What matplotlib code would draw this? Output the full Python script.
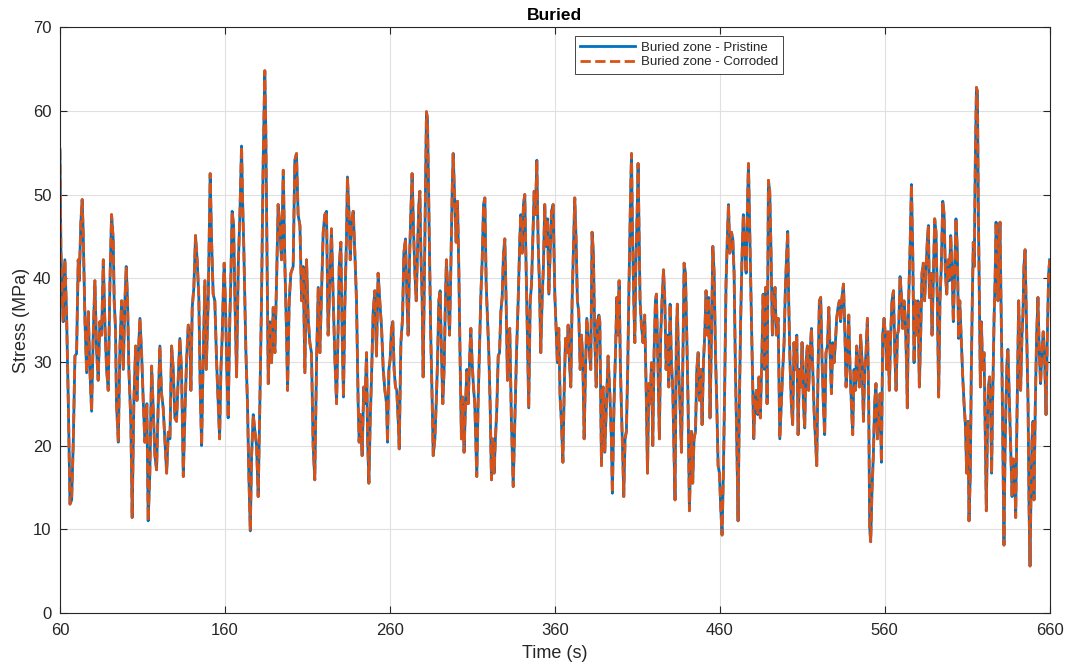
import matplotlib.pyplot as plt

# Stress history (time in s, stress in MPa).
# The two curves coincide at this scale, so one reading serves both.
t_a = [60.0, 60.6, 61.4, 62.0, 63.0, 64.0, 65.1, 66.1, 67.1, 68.1, 69.1, 70.1, 71.1, 71.7, 72.7, 73.5, 74.1, 75.2, 76.2, 77.2,
       78.0, 79.2, 80.2, 81.2, 82.2, 83.2, 84.2, 85.3, 86.3, 87.3, 88.3, 89.3, 90.3, 91.3, 92.3, 92.9, 93.7, 94.3, 95.4, 96.4,
       97.4, 98.4, 99.4, 100.2, 101.0, 101.8, 103.0, 103.8, 104.8, 105.9, 106.7, 107.5, 108.5, 109.5, 110.5, 111.5, 112.7, 113.5]
s_a = [55.4, 43.4, 37.7, 34.8, 42.2, 36.0, 25.0, 13.0, 13.5, 20.4, 30.7, 31.0, 42.2, 39.7, 46.7, 49.4, 45.5, 34.8, 28.7, 36.0,
       29.9, 24.1, 33.2, 39.7, 31.5, 27.8, 34.8, 33.2, 42.2, 34.4, 29.1, 26.6, 39.3, 47.6, 44.7, 37.3, 34.0, 25.0, 20.4, 31.9,
       37.3, 29.1, 37.3, 41.4, 37.3, 29.1, 22.9, 11.4, 25.0, 31.9, 25.4, 30.7, 35.2, 31.1, 25.4, 20.4, 25.0, 11.0]

t_b = [114.5, 115.6, 116.6, 117.6, 118.6, 119.6, 120.6, 121.6, 122.6, 123.6, 124.7, 125.7, 126.7, 127.7, 128.7, 129.7, 130.7,
       131.7, 132.7, 133.7, 134.8, 135.8, 136.8, 137.8, 138.8, 139.4, 140.2, 141.2, 142.2, 143.2, 144.2, 145.1, 145.9, 146.7,
       147.9, 148.7, 149.9, 151.1, 151.9, 152.9, 153.9, 155.0, 156.0, 156.8, 157.6, 158.4, 159.2, 159.6, 160.4, 161.2, 162.0,
       163.0, 163.6, 164.4, 165.3, 166.1, 167.1, 168.1, 169.1]
s_b = [16.7, 29.5, 24.1, 18.8, 17.1, 25.0, 31.9, 26.2, 24.5, 20.8, 16.7, 21.6, 20.8, 31.9, 29.1, 23.3, 22.9,
       27.8, 32.8, 29.1, 16.3, 24.1, 30.3, 34.4, 33.2, 26.6, 36.5, 38.9, 45.1, 42.2, 37.7, 26.2, 20.0, 29.1,
       39.7, 29.1, 37.3, 52.5, 44.7, 38.1, 37.3, 29.9, 25.0, 20.8, 29.1, 33.2, 39.7, 41.8, 36.5, 29.1, 23.3,
       35.2, 39.7, 48.0, 46.3, 37.3, 28.2, 41.4, 47.6]

t_c = [170.1, 170.7, 171.5, 172.1, 172.7, 173.7, 174.5, 175.4, 176.2, 177.2, 178.2, 179.2, 180.2, 181.2, 182.2, 183.2, 184.2,
       184.8, 185.5, 186.3, 187.3, 188.3, 189.3, 190.3, 191.3, 192.3, 193.3, 194.3, 195.4, 196.4, 197.4, 198.0, 199.0, 200.0,
       201.4, 202.4, 203.4, 204.4, 205.5, 206.5, 207.5, 208.5, 209.5, 210.5, 211.5, 212.5, 213.5, 214.5, 215.6, 216.6, 217.6,
       218.6, 219.6, 220.6, 221.6, 222.6, 223.6]
s_c = [55.8, 49.6, 43.4, 37.3, 31.5, 25.0, 16.7, 9.8, 18.8, 23.7, 21.7, 20.0, 13.9, 25.0, 37.3, 53.7, 64.8,
       57.8, 43.4, 27.4, 34.8, 29.9, 36.5, 31.1, 39.3, 48.8, 46.3, 42.2, 52.9, 41.4, 33.2, 26.6, 37.3, 40.6,
       41.4, 54.1, 54.9, 47.6, 46.3, 37.3, 41.4, 28.7, 42.2, 35.2, 32.3, 31.1, 20.0, 15.9, 30.3, 38.9, 31.1,
       38.5, 45.5, 47.6, 48.0, 33.2, 39.3]

t_d = [224.6, 225.7, 226.7, 227.7, 228.7, 229.3, 230.3, 231.1, 231.9, 232.7, 233.7, 234.3, 235.2, 236.0, 236.8, 237.8, 238.8,
       239.8, 240.8, 241.4, 242.2, 243.2, 244.2, 244.9, 245.9, 246.5, 247.3, 248.1, 248.9, 249.9, 250.9, 251.9, 252.9, 253.9,
       255.0, 256.0, 257.0, 258.0, 258.6, 259.4, 260.2, 261.0, 261.8, 262.6, 263.4, 264.2, 265.1, 265.7, 266.7, 267.7, 268.5,
       269.5, 270.3, 271.1, 272.1, 272.7, 273.5, 274.4, 275.2, 276.0, 276.8, 277.6, 278.2]
s_d = [45.9, 37.3, 30.3, 25.0, 34.4, 41.4, 44.3, 33.2, 25.8, 36.5, 44.7, 52.1, 48.0, 42.2, 46.7, 48.0, 43.0,
       37.3, 25.0, 20.4, 23.7, 18.8, 27.0, 25.0, 31.1, 20.8, 15.5, 22.9, 28.2, 36.0, 38.5, 30.7, 40.6, 37.3,
       34.0, 29.1, 26.6, 25.0, 20.4, 29.1, 30.3, 34.0, 34.8, 29.1, 27.0, 26.6, 22.9, 19.6, 32.3, 35.2, 43.0,
       44.7, 38.1, 33.2, 43.4, 47.6, 52.5, 45.5, 40.6, 37.3, 43.4, 48.8, 50.4]

t_e = [278.8, 279.6, 280.2, 280.8, 281.6, 282.2, 282.8, 283.4, 284.2, 284.8, 285.7, 286.3, 287.3, 288.1, 288.9, 289.7, 290.5,
       291.3, 292.1, 292.9, 293.7, 294.3, 295.4, 296.2, 297.0, 297.8, 298.4, 299.4, 300.2, 301.0, 301.8, 302.6, 303.4, 304.2,
       305.0, 305.9, 306.7, 307.5, 308.5, 309.1, 309.9, 310.7, 311.5, 312.1, 312.7, 313.5, 314.3, 315.2, 316.0, 316.8, 317.6,
       318.4, 319.2, 320.0, 320.8, 321.6, 322.4, 323.2, 324.0, 324.8, 325.7, 326.5, 327.3, 328.1, 328.9, 329.7, 330.5, 331.3,
       332.1, 332.7]
s_e = [43.4, 37.3, 28.2, 37.3, 50.4, 59.9, 59.1, 51.7, 40.6, 33.2, 25.0, 18.8, 20.8, 25.0, 29.9, 37.3, 38.5,
       31.1, 25.0, 29.1, 37.3, 42.2, 37.3, 33.2, 41.4, 50.4, 54.9, 49.2, 44.3, 49.2, 41.4, 30.3, 20.8, 25.8,
       19.2, 25.0, 29.1, 25.0, 31.1, 34.0, 29.9, 27.0, 25.0, 20.8, 16.3, 25.0, 31.1, 38.1, 42.2, 48.8, 49.6,
       39.3, 35.2, 31.1, 25.0, 15.9, 20.8, 16.7, 20.8, 24.1, 30.7, 31.1, 36.0, 37.7, 43.0, 44.7, 37.3, 27.8,
       33.2, 34.0]

t_f = [333.7, 334.8, 335.8, 336.8, 337.8, 338.8, 339.4, 340.2, 341.0, 341.8, 342.6, 343.4, 344.2, 345.1, 345.9, 346.7, 347.5,
       348.3, 349.1, 349.9, 350.7, 351.5, 352.3, 353.1, 353.9, 354.8, 355.6, 356.4, 357.2, 358.0, 359.0, 360.0, 360.8, 361.6,
       362.4, 363.2, 364.0, 364.9, 365.7, 366.5, 367.3, 368.1, 368.9, 369.7, 370.5, 371.3, 372.1, 372.9, 373.7, 374.5, 375.4,
       376.2, 377.0, 377.8, 378.6, 379.4, 380.2, 381.0, 381.8, 382.6, 383.4, 384.2, 385.1, 385.9, 386.7, 387.3]
s_f = [22.9, 15.1, 22.9, 31.1, 37.3, 44.7, 47.6, 43.0, 48.8, 50.0, 41.4, 32.3, 24.5, 37.3, 39.3, 44.7, 50.4,
       47.6, 54.1, 44.3, 39.3, 31.1, 37.3, 41.4, 48.8, 43.8, 47.1, 38.1, 43.0, 48.0, 48.8, 38.1, 34.0, 29.9,
       34.0, 25.8, 22.9, 18.0, 26.6, 32.8, 31.1, 34.4, 29.9, 27.0, 37.3, 43.4, 49.6, 44.7, 37.3, 36.0, 29.1,
       33.2, 29.9, 20.8, 29.1, 35.2, 33.2, 31.1, 29.1, 45.5, 43.0, 33.2, 27.0, 34.8, 35.6, 34.8]

t_g = [388.3, 389.3, 390.3, 391.3, 392.3, 393.3, 394.3, 394.9, 395.9, 396.8, 397.6, 398.4, 399.0, 399.8, 400.6, 401.2, 401.8,
       402.6, 403.4, 404.2, 405.0, 405.9, 406.5, 407.1, 407.9, 408.5, 409.1, 409.9, 410.5, 411.1, 411.7, 412.5, 413.5, 414.5,
       415.4, 416.2, 417.0, 417.8, 418.6, 419.4, 420.2, 421.0, 421.6, 422.6, 423.4, 424.2, 425.0, 425.9, 426.7, 427.5, 428.3,
       429.1, 429.9, 430.7, 431.5, 432.3, 432.9, 433.7, 434.3, 435.1, 435.9, 436.8, 437.8, 438.4, 439.2, 440.0, 440.8, 441.6]
s_g = [17.6, 27.0, 19.2, 25.0, 30.7, 26.6, 20.8, 14.3, 25.0, 31.1, 37.7, 33.2, 39.7, 29.1, 22.9, 18.8, 13.9,
       20.8, 21.7, 29.1, 39.3, 49.6, 54.9, 45.5, 37.3, 32.3, 41.4, 47.6, 53.7, 45.5, 37.3, 34.4, 32.3, 35.6,
       26.6, 16.7, 27.4, 25.0, 29.9, 20.0, 31.1, 37.3, 38.1, 29.1, 20.8, 33.2, 37.3, 41.0, 37.3, 29.1, 33.2,
       27.0, 36.9, 29.9, 27.0, 18.8, 13.5, 33.2, 36.9, 29.1, 25.0, 19.2, 32.3, 41.8, 40.6, 33.2, 25.0, 12.2]

t_h = [442.8, 443.6, 444.4, 445.3, 446.1, 446.9, 447.7, 448.5, 449.3, 450.1, 450.9, 451.7, 452.5, 453.3, 454.1, 455.0, 455.8,
       456.6, 457.4, 458.2, 459.0, 459.8, 460.6, 461.4, 462.2, 463.0, 463.8, 464.7, 465.3, 466.1, 467.1, 467.9, 468.7, 469.5,
       470.3, 471.1, 471.9, 472.7, 473.5, 474.3, 475.2, 476.0, 476.8, 477.4, 478.2, 479.0, 479.8, 480.6, 481.4, 482.2, 483.0,
       483.8, 484.6, 485.5, 486.3, 487.1, 487.9, 488.7, 489.5, 490.3, 491.1, 491.9, 492.7, 493.5, 494.3, 495.4, 496.4]
s_h = [21.7, 15.5, 20.8, 21.7, 29.1, 31.1, 25.4, 29.1, 22.5, 29.9, 33.2, 38.5, 33.2, 37.7, 23.3, 33.2, 43.8,
       40.6, 31.1, 25.0, 17.6, 16.7, 12.6, 9.3, 16.7, 27.0, 39.3, 45.5, 48.8, 43.0, 45.5, 44.7, 40.6, 29.1,
       20.8, 11.0, 25.0, 35.2, 42.6, 47.6, 43.0, 40.6, 48.8, 53.7, 45.5, 37.3, 29.1, 20.8, 25.4, 26.6, 23.7,
       28.2, 23.3, 30.3, 38.1, 29.1, 38.9, 25.0, 51.7, 50.4, 43.0, 33.2, 37.3, 38.9, 33.2, 35.2, 20.8]

t_i = [498.2, 499.0, 499.8, 500.6, 501.2, 501.8, 502.6, 503.4, 504.2, 505.0, 505.9, 506.7, 507.5, 508.3, 509.1, 509.9, 510.7,
       511.5, 512.3, 513.1, 513.9, 514.7, 515.6, 516.4, 517.2, 518.0, 518.8, 519.6, 520.4, 521.2, 522.0, 522.8, 523.6, 524.4,
       525.3, 526.1, 526.9, 527.7, 528.5, 529.3, 530.1, 530.9, 531.7, 532.5, 533.3, 534.1, 535.0, 535.8, 536.6, 537.4, 538.2,
       539.0, 539.8, 540.6, 541.4, 542.2, 543.0, 543.8, 544.6, 545.4, 546.3, 547.1, 547.9, 548.7, 549.5, 550.3, 550.9]
s_i = [29.1, 32.3, 38.9, 43.0, 45.6, 37.3, 29.9, 25.0, 22.5, 32.3, 29.1, 33.2, 21.3, 29.1, 27.0, 32.3, 25.0,
       22.1, 29.9, 31.9, 26.6, 31.1, 34.0, 29.1, 24.1, 20.8, 17.6, 29.1, 37.3, 37.7, 30.3, 25.0, 21.3, 31.1,
       31.9, 36.5, 31.1, 26.2, 32.3, 29.9, 32.3, 35.2, 36.5, 37.3, 34.8, 37.7, 39.3, 34.0, 27.0, 30.7, 35.6,
       29.1, 25.0, 21.3, 29.1, 26.6, 31.9, 29.1, 27.0, 33.2, 29.9, 22.9, 29.1, 31.1, 35.2, 25.0, 10.2]

t_j = [551.5, 552.3, 553.1, 553.9, 554.7, 555.6, 556.4, 557.2, 558.0, 558.8, 559.6, 560.4, 561.2, 562.0, 562.8, 563.6, 564.4,
       565.3, 566.1, 566.9, 567.7, 568.5, 569.3, 570.1, 570.9, 571.7, 572.5, 573.3, 573.7, 574.5, 575.4, 576.2, 577.0, 577.8,
       578.6, 579.4, 580.2, 581.0, 581.8, 582.6, 583.4, 584.2, 585.1, 585.9, 586.5, 587.1, 587.9, 588.7, 589.5, 590.3, 591.1,
       591.9, 592.7, 593.5, 594.3, 595.2, 596.0, 596.8, 597.6, 598.4, 599.2, 600.0, 600.8, 601.6, 602.4, 603.2, 604.0, 604.8,
       605.5]
s_j = [8.5, 14.7, 18.8, 25.0, 27.4, 20.8, 22.9, 26.2, 18.0, 33.2, 35.2, 33.2, 29.1, 33.6, 26.6, 33.2, 37.3,
       38.5, 31.1, 26.6, 33.2, 34.0, 40.2, 38.1, 34.0, 37.3, 35.2, 29.1, 24.5, 37.3, 43.8, 51.2, 43.0, 29.9,
       37.3, 33.2, 37.3, 27.0, 33.2, 40.6, 41.8, 37.3, 41.4, 44.7, 46.3, 37.7, 40.6, 33.2, 40.2, 47.1, 45.5,
       37.3, 25.8, 37.3, 41.4, 49.2, 47.6, 40.6, 38.1, 42.2, 39.7, 45.1, 41.4, 34.8, 40.6, 47.1, 43.4, 32.8,
       37.3]

t_k = [606.5, 607.3, 608.1, 608.9, 609.7, 610.5, 611.1, 611.9, 612.5, 613.1, 613.7, 614.3, 614.9, 615.6, 616.2, 616.8, 617.4,
       618.0, 618.6, 619.4, 620.2, 621.0, 621.6, 622.2, 622.8, 623.6, 624.2, 624.8, 625.4, 626.3, 626.9, 627.5, 628.1, 628.7,
       629.3, 629.9, 630.5, 631.1, 631.7, 632.3, 632.9, 633.5, 634.1, 634.7, 635.6, 636.4, 637.2, 638.0, 638.8, 639.4, 640.0,
       640.6, 641.2, 641.8, 642.4, 643.2, 643.8, 644.4, 645.1, 645.7, 646.3, 646.9, 647.5, 648.1, 648.7, 649.3, 649.9, 650.5,
       651.3, 652.1, 652.9, 653.7, 654.5, 655.3, 656.1, 656.9, 657.8, 658.6, 659.4, 660.0]
s_k = [32.3, 28.2, 25.0, 22.5, 16.7, 22.9, 11.0, 16.7, 29.1, 37.3, 44.3, 41.4, 53.7, 62.8, 62.3, 47.6, 37.3,
       27.0, 34.8, 29.1, 31.1, 20.8, 12.2, 20.8, 27.0, 28.2, 25.0, 16.7, 25.0, 35.2, 39.7, 46.7, 43.8, 37.3,
       43.0, 46.7, 37.3, 29.1, 18.8, 8.1, 18.8, 25.0, 29.9, 31.5, 25.0, 18.8, 13.9, 18.4, 16.7, 11.4, 20.8,
       29.1, 37.3, 32.3, 26.6, 33.2, 35.6, 41.4, 43.4, 37.3, 30.7, 25.0, 12.6, 5.6, 14.7, 20.8, 22.9, 13.5,
       25.0, 33.2, 37.7, 31.1, 27.4, 31.1, 33.6, 30.7, 23.7, 33.2, 40.6, 42.2]

time_s = []
stress_pristine = []
for name, tt, ss in [('a', t_a, s_a), ('b', t_b, s_b), ('c', t_c, s_c), ('d', t_d, s_d), ('e', t_e, s_e),
                     ('f', t_f, s_f), ('g', t_g, s_g), ('h', t_h, s_h), ('i', t_i, s_i), ('j', t_j, s_j),
                     ('k', t_k, s_k)]:
    assert len(tt) == len(ss), f"segment {name}: {len(tt)} vs {len(ss)}"
    time_s += tt
    stress_pristine += ss
stress_corroded = list(stress_pristine)

x_ticks = [60, 160, 260, 360, 460, 560, 660]
y_ticks = [0, 10, 20, 30, 40, 50, 60, 70]

plt.rcParams['font.family'] = ['Liberation Sans', 'DejaVu Sans']

fig = plt.figure(figsize=(10.7, 6.64), dpi=100)
ax = fig.add_axes([0.056, 0.077, 0.925, 0.882])

ax.plot(time_s, stress_pristine, color='#0072BD', lw=2.0, label='Buried zone - Pristine')
ax.plot(time_s, stress_corroded, color='#D95319', lw=2.0, ls='--', label='Buried zone - Corroded')

ax.set_xlim(60, 660)
ax.set_ylim(0, 70)
ax.set_xticks(x_ticks)
ax.set_yticks(y_ticks)
ax.grid(True, color='#E0E0E0', lw=0.8)
ax.set_axisbelow(True)
ax.tick_params(direction='in', top=True, right=True, labelsize=12, colors='#262626', length=5, width=0.8)
ax.tick_params(axis='x', pad=7)
ax.tick_params(axis='y', pad=6)
for sp in ax.spines.values():
    sp.set_color('#262626')
    sp.set_linewidth(0.8)

ax.set_xlabel('Time (s)', fontsize=13, color='#262626', labelpad=5)
ax.set_ylabel('Stress (MPa)', fontsize=13, color='#262626', labelpad=2)
ax.set_title('Buried', fontsize=12.5, fontweight='bold', color='#000000', pad=5)

leg = ax.legend(loc='upper left', bbox_to_anchor=(0.52, 0.985), fontsize=9.5, fancybox=False,
                framealpha=1, edgecolor='#262626', borderpad=0.4, handlelength=4.2, labelspacing=0.2,
                handletextpad=0.4, borderaxespad=0)
leg.get_frame().set_linewidth(0.6)
for txt in leg.get_texts():
    txt.set_color('#262626')

fig.savefig('out.png', dpi=100)
